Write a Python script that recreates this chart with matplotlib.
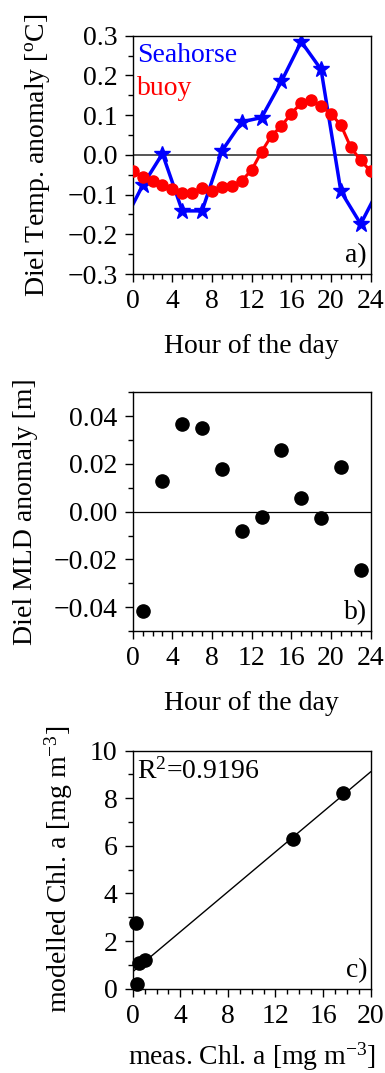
import matplotlib
matplotlib.use('Agg')
import matplotlib.pyplot as plt
import numpy as np
from matplotlib.ticker import MultipleLocator

plt.rcParams['font.family'] = ['Liberation Serif', 'DejaVu Serif']
plt.rcParams['mathtext.fontset'] = 'custom'
plt.rcParams['mathtext.rm'] = 'Liberation Serif'
plt.rcParams['mathtext.it'] = 'Liberation Serif:italic'
plt.rcParams['font.size'] = 20

# a) diel temperature anomaly (wrapped at -1 and 25 so the line runs to the frame)
hours_sh = [-1, 1, 3, 5, 7, 9, 11, 13, 15, 17, 19, 21, 23, 25]
temp_sh = [-0.174, -0.077, 0.003, -0.141, -0.141, 0.010, 0.083, 0.094,
           0.185, 0.285, 0.215, -0.092, -0.174, -0.077]
hours_buoy = list(range(25))
temp_buoy = [-0.041, -0.055, -0.065, -0.075, -0.086, -0.096, -0.095, -0.083,
             -0.092, -0.080, -0.078, -0.065, -0.038, 0.008, 0.048, 0.073,
             0.104, 0.131, 0.137, 0.123, 0.103, 0.075, 0.019, -0.014, -0.041]

# b) diel MLD anomaly
hours_mld = [1, 3, 5, 7, 9, 11, 13, 15, 17, 19, 21, 23]
mld = [-0.0418, 0.0127, 0.0368, 0.0350, 0.0179, -0.0080, -0.0022, 0.0260,
       0.0057, -0.0028, 0.0189, -0.0246]

# c) modelled vs measured chl a
chl_meas = [0.25, 0.34, 0.56, 1.04, 13.45, 17.7]
chl_mod = [2.77, 0.20, 1.06, 1.20, 6.29, 8.21]
fit_coef = [0.42, 0.71]  # slope, intercept
r2 = 0.9196

fig = plt.figure(figsize=(3.85, 10.73), dpi=100)
W = 0.618
axa = fig.add_axes([0.3447, 0.7446, W, 0.2221])
axb = fig.add_axes([0.3447, 0.4119, W, 0.2225])
axc = fig.add_axes([0.3447, 0.0786, W, 0.2218])

for ax in (axa, axb, axc):
    for s in ax.spines.values():
        s.set_linewidth(1.0)
    ax.tick_params(which='major', direction='out', length=6, width=1, pad=5)
    ax.tick_params(which='minor', direction='out', length=3.5, width=1)

# panel a
axa.axhline(0, color='#555555', lw=1.4, zorder=1)
axa.plot(hours_sh, temp_sh, '-*', color='blue', lw=2.5, ms=12, zorder=2)
axa.plot(hours_buoy, temp_buoy, '-o', color='red', lw=2.2, ms=8, zorder=3)
axa.set_xlim(0, 24)
axa.set_ylim(-0.3, 0.3)
axa.xaxis.set_major_locator(MultipleLocator(4))
axa.xaxis.set_minor_locator(MultipleLocator(1))
axa.yaxis.set_major_locator(MultipleLocator(0.1))
axa.yaxis.set_minor_locator(MultipleLocator(0.05))
axa.yaxis.set_major_formatter(lambda v, p: f'{v:.1f}'.replace('-', '\u2212'))
axa.set_xlabel('Hour of the day', labelpad=14)
axa.set_ylabel('Diel Temp. anomaly [$^{\\mathrm{o}}$C]', labelpad=11)
axa.text(0.02, 0.97, 'Seahorse', color='blue', transform=axa.transAxes,
         va='top', ha='left')
axa.text(0.02, 0.83, 'buoy', color='red', transform=axa.transAxes,
         va='top', ha='left')
axa.text(0.985, 0.025, 'a)', transform=axa.transAxes, va='bottom', ha='right')

# panel b
axb.axhline(0, color='black', lw=0.9, zorder=1)
axb.plot(hours_mld, mld, 'o', color='black', ms=9.5, zorder=2)
axb.set_xlim(0, 24)
axb.set_ylim(-0.05, 0.05)
axb.xaxis.set_major_locator(MultipleLocator(4))
axb.xaxis.set_minor_locator(MultipleLocator(1))
axb.yaxis.set_major_locator(MultipleLocator(0.02))
axb.yaxis.set_minor_locator(MultipleLocator(0.01))
axb.yaxis.set_major_formatter(lambda v, p: f'{v:.2f}'.replace('-', '\u2212'))
axb.set_xlabel('Hour of the day', labelpad=14)
axb.set_ylabel('Diel MLD anomaly [m]', labelpad=11)
axb.text(0.985, 0.025, 'b)', transform=axb.transAxes, va='bottom', ha='right')

# panel c
xx = np.array([0, 20])
axc.plot(xx, np.polyval(fit_coef, xx), color='black', lw=1.0, zorder=1)
axc.plot(chl_meas, chl_mod, 'o', color='black', ms=9.5, zorder=2, clip_on=False)
axc.set_xlim(0, 20)
axc.set_ylim(0, 10)
axc.xaxis.set_major_locator(MultipleLocator(4))
axc.xaxis.set_minor_locator(MultipleLocator(1))
axc.yaxis.set_major_locator(MultipleLocator(2))
axc.yaxis.set_minor_locator(MultipleLocator(1))
axc.set_xlabel('meas. Chl. a [mg m$^{\\mathrm{\u22123}}$]', labelpad=8)
axc.set_ylabel('modelled Chl. a [mg m$^{\\mathrm{\u22123}}$]', labelpad=11)
axc.text(0.02, 0.97, 'R$^{\\mathrm{2}}$=%.4f' % r2, transform=axc.transAxes,
         va='top', ha='left')
axc.text(0.985, 0.025, 'c)', transform=axc.transAxes, va='bottom', ha='right')

fig.savefig('out.png', dpi=100)
